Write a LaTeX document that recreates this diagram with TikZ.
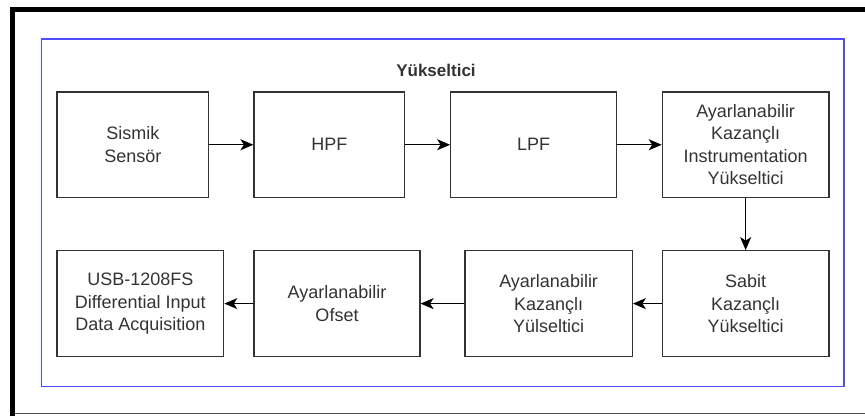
\documentclass[tikz,border=0pt]{standalone}
\usepackage{fontspec}
\setmainfont{Liberation Sans}
\usetikzlibrary{arrows.meta}
\definecolor{txt}{HTML}{333333}
\definecolor{frameblue}{HTML}{4D4DFF}
\tikzset{
  blockbox/.style={draw=black!80, line width=1.2pt, fill=white, inner sep=0pt, align=center,
    text=txt, font=\fontsize{18}{22.5}\selectfont},
  flow/.style={line width=1.3pt, -{Stealth[length=13pt,width=11pt,inset=3.5pt]}},
}
\begin{document}
\begin{tikzpicture}[x=1pt,y=-1pt]
\useasboundingbox (0,0) rectangle (865,416);
% outer frame
\draw[line width=1pt, black!70] (12,413) -- (865,413);
\draw[line width=5pt] (12.5,416) -- (12.5,9) -- (865,9);
% blue frame
\node[draw=frameblue, line width=1.5pt, minimum width=802.3pt, minimum height=347.7pt, inner sep=0pt] (frame) at (442.85,212.85) {};
\node[text=txt, font=\bfseries\fontsize{17}{20}\selectfont] (title) at (436,70) {Yükseltici};
% top row
\node[blockbox, minimum width=151.7pt, minimum height=105.5pt] (b1) at (132.85,144.75) {Sismik\\Sensör};
\node[blockbox, minimum width=150.7pt, minimum height=105.5pt] (b2) at (329.35,144.75) {HPF};
\node[blockbox, minimum width=166pt, minimum height=105.5pt] (b3) at (533.7,144.75) {LPF};
\node[blockbox, minimum width=166.7pt, minimum height=105.5pt] (b4) at (745.65,144.75) {Ayarlanabilir\\Kazançlı\\Instrumentation\\Yükseltici};
% bottom row
\node[blockbox, minimum width=166.7pt, minimum height=105.8pt] (c1) at (140.35,303.6) {USB-1208FS\\Differential Input\\Data Acquisition};
\node[blockbox, minimum width=166pt, minimum height=105.8pt] (c2) at (337,303.6) {Ayarlanabilir\\Ofset};
\node[blockbox, minimum width=167.3pt, minimum height=105.8pt] (c3) at (548.65,303.6) {Ayarlanabilir\\Kazançlı\\Yülseltici};
\node[blockbox, minimum width=166.7pt, minimum height=105.8pt] (c4) at (745.65,303.6) {Sabit\\Kazançlı\\Yükseltici};
% connectors
\draw[flow] (b1) -- (b2);
\draw[flow] (b2) -- (b3);
\draw[flow] (b3) -- (b4);
\draw[flow] (b4) -- (c4);
\draw[flow] (c4) -- (c3);
\draw[flow] (c3) -- (c2);
\draw[flow] (c2) -- (c1);
\end{tikzpicture}
\end{document}
